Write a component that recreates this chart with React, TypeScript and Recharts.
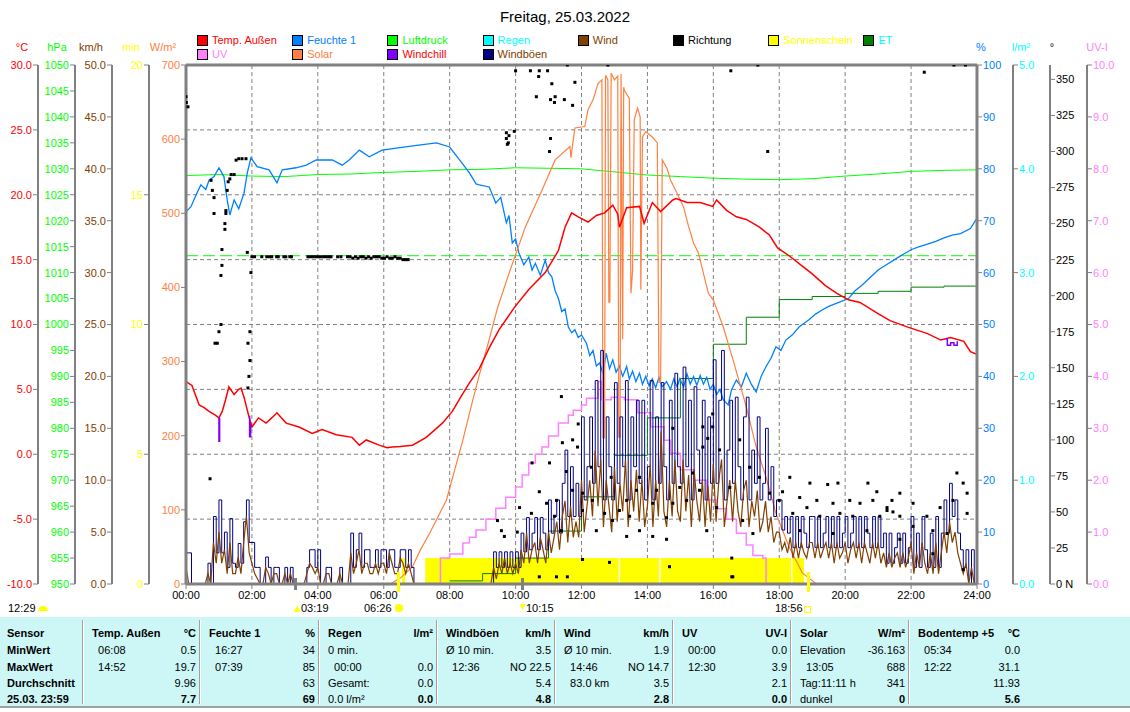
import React from "react";
import {
  ComposedChart, Line, Area, Scatter, XAxis, YAxis, CartesianGrid, ReferenceLine,
} from "recharts";

type Pt = [number, number];

// ---- axis ticks ----
const hourTicks = [0, 2, 4, 6, 8, 10, 12, 14, 16, 18, 20, 22, 24];
const tempTicks = [-10, -5, 0, 5, 10, 15, 20, 25, 30];
const pressTicks = [950, 955, 960, 965, 970, 975, 980, 985, 990, 995, 1000, 1005, 1010, 1015, 1020, 1025, 1030, 1035, 1040, 1045, 1050];
const windTicks = [0, 5, 10, 15, 20, 25, 30, 35, 40, 45, 50];
const sunTicks = [0, 5, 10, 15, 20];
const solarTicks = [0, 100, 200, 300, 400, 500, 600, 700];
const humTicks = [0, 10, 20, 30, 40, 50, 60, 70, 80, 90, 100];
const rainTicks = [0, 1, 2, 3, 4, 5];
const dirTicks = [0, 25, 50, 75, 100, 125, 150, 175, 200, 225, 250, 275, 300, 325, 350];
const uvTicks = [0, 1, 2, 3, 4, 5, 6, 7, 8, 9, 10];

// ---- series: [hour, value] ----
const tempOut: Pt[] = [
  [0, 5.6], [0.18, 5.3], [0.4, 3.8], [0.55, 3.6], [0.7, 3.3], [0.9, 3.0], [1.0, 2.8], [1.1, 3.3], [1.2, 4.2],
  [1.3, 5.2], [1.46, 4.6], [1.6, 5.0], [1.67, 5.1], [1.76, 4.4], [1.85, 3.5], [1.91, 2.9], [2.0, 2.1], [2.2, 2.8],
  [2.43, 2.4], [2.6, 2.8], [2.76, 3.2], [2.9, 2.8], [3.04, 2.4], [3.43, 2.1], [3.83, 1.6], [4.13, 1.9], [4.56, 1.5],
  [5.04, 1.3], [5.26, 0.7], [5.47, 1.1], [5.86, 0.7], [6.1, 0.5], [6.26, 0.55], [6.5, 0.6], [6.87, 0.7], [7.29, 1.3],
  [7.78, 2.4], [8.08, 3.3], [8.38, 4.6], [8.6, 5.5], [8.9, 6.6], [9.2, 8.2], [9.5, 9.6], [9.96, 11.3], [10.4, 12.7],
  [10.9, 14.0], [11.3, 15.7], [11.5, 17.5], [11.7, 18.6], [11.9, 18.3], [12.2, 17.9], [12.45, 18.4], [12.7, 18.6],
  [12.95, 19.2], [13.1, 18.5], [13.15, 17.5], [13.37, 19.0], [13.76, 19.1], [13.9, 17.8], [14.15, 19.4], [14.4, 18.7],
  [14.77, 19.6], [14.87, 19.7], [15.2, 19.4], [15.6, 19.4], [15.98, 19.1], [16.1, 19.6], [16.4, 18.8], [16.7, 18.3],
  [17.0, 18.1], [17.4, 17.5], [17.7, 16.9], [17.95, 15.9], [18.3, 15.3], [18.7, 14.5], [19.0, 13.9], [19.4, 13.0],
  [19.75, 12.4], [20.1, 11.9], [20.45, 11.7], [20.96, 10.9], [21.36, 10.3], [21.9, 9.8], [22.5, 9.3], [22.9, 8.8],
  [23.2, 9.0], [23.6, 8.7], [23.8, 7.9], [24, 7.7],
];

const windchillSegs: Pt[][] = [
  [[0.98, 2.8], [1.0, 1.0], [1.02, 2.8]],
  [[1.91, 2.9], [1.93, 1.35], [1.96, 2.4]],
  [[23.05, 8.9], [23.1, 8.4], [23.2, 8.6], [23.3, 8.4], [23.4, 8.7]],
];

const humidity: Pt[] = [
  [0, 71.7], [0.15, 72.7], [0.33, 75.3], [0.45, 76.9], [0.6, 76.0], [0.7, 77.8], [0.85, 78.5], [1.0, 80.2],
  [1.15, 78.5], [1.25, 74.0], [1.33, 71.1], [1.46, 74.0], [1.6, 72.3], [1.76, 75.3], [1.86, 79.2], [1.97, 82.1],
  [2.16, 80.4], [2.52, 79.8], [2.76, 77.3], [2.92, 79.8], [3.34, 80.2], [3.65, 80.7], [3.95, 81.7], [4.44, 81.7],
  [4.74, 80.7], [4.95, 81.7], [5.26, 83.6], [5.56, 82.3], [5.95, 83.6], [6.38, 84.0], [7.0, 84.5], [7.6, 85.0],
  [8.0, 84.2], [8.3, 81.7], [8.6, 79.2], [8.8, 77.1], [8.9, 76.9], [9.2, 76.5], [9.4, 73.4], [9.55, 74.5],
  [9.72, 69.6], [9.8, 71.0], [9.9, 65.7], [10.0, 66.5], [10.1, 63.8], [10.25, 61.5], [10.4, 63.0], [10.5, 60.5],
  [10.6, 61.8], [10.75, 59.5], [10.9, 62.4], [11.0, 60.0], [11.1, 59.2], [11.2, 56.5], [11.3, 55.0], [11.4, 52.5],
  [11.5, 53.0], [11.6, 49.5], [11.7, 48.4], [11.8, 49.0], [11.9, 47.5], [12.0, 48.0], [12.15, 46.4], [12.25, 44.0],
  [12.35, 45.0], [12.45, 42.0], [12.55, 42.6], [12.65, 40.5], [12.75, 44.5], [12.85, 41.5], [12.95, 43.2], [13.05, 40.8],
  [13.15, 42.0], [13.25, 40.0], [13.37, 41.9], [13.45, 39.5], [13.55, 41.0], [13.65, 39.0], [13.76, 40.6],
  [13.85, 38.5], [13.95, 40.0], [14.05, 38.2], [14.15, 39.5], [14.25, 37.8], [14.35, 39.8], [14.45, 38.0],
  [14.58, 39.0], [14.7, 37.5], [14.8, 39.5], [14.9, 38.0], [14.98, 39.5], [15.1, 38.0], [15.2, 40.5], [15.3, 38.5],
  [15.4, 40.0], [15.5, 38.3], [15.6, 40.2], [15.7, 38.5], [15.8, 39.8], [15.9, 37.5], [16.0, 38.5], [16.1, 36.5],
  [16.2, 37.5], [16.3, 35.5], [16.45, 34.5], [16.55, 37.4], [16.7, 39.3], [16.85, 38.0], [17.0, 40.6],
  [17.15, 38.5], [17.3, 37.0], [17.45, 40.0], [17.6, 41.9], [17.75, 43.5], [17.9, 45.7], [18.05, 45.0],
  [18.2, 47.0], [18.4, 48.0], [18.6, 49.5], [18.9, 50.9], [19.1, 52.0], [19.3, 52.8], [19.5, 53.5], [19.75, 54.1],
  [20.1, 55.0], [20.3, 56.5], [20.5, 57.5], [20.75, 59.0], [21.0, 60.5], [21.25, 61.5], [21.5, 62.5], [21.75, 63.5],
  [22.0, 64.4], [22.25, 65.0], [22.5, 65.5], [22.75, 66.0], [23.0, 66.7], [23.25, 67.2], [23.5, 67.5],
  [23.8, 68.5], [24, 70.5],
];

const pressure: Pt[] = [
  [0, 1028.7], [1, 1028.9], [2, 1028.6], [3, 1028.5], [4, 1028.9], [5, 1029.0], [6, 1029.3], [7, 1029.5],
  [8, 1029.8], [9, 1029.9], [10, 1030.2], [11, 1030.1], [12, 1030.0], [13, 1029.4], [14, 1028.8], [15, 1028.5],
  [16, 1028.2], [17, 1028.0], [18, 1027.9], [19, 1028.1], [20, 1028.6], [21, 1029.0], [22, 1029.5], [23, 1029.7],
  [24, 1029.8],
];

const solar: Pt[] = [
  [6.2, 0], [6.5, 8], [6.87, 23], [7.1, 45], [7.4, 69], [7.9, 113], [8.4, 194], [8.7, 248], [8.9, 282],
  [9.2, 330], [9.45, 372], [9.8, 419], [10.3, 482], [10.8, 531], [11.2, 572], [11.65, 590], [11.68, 575],
  [11.72, 589], [11.8, 615], [12.1, 617], [12.2, 640], [12.35, 653], [12.5, 675], [12.62, 680], [12.65, 197],
  [12.7, 197], [12.73, 686], [12.8, 680], [12.83, 380], [12.86, 380], [12.9, 689], [13.0, 680], [13.1, 685],
  [13.13, 198], [13.17, 198], [13.2, 688], [13.25, 330], [13.28, 670], [13.3, 666], [13.45, 655], [13.5, 392],
  [13.55, 423], [13.6, 626], [13.7, 642], [13.78, 630], [13.8, 397], [13.85, 603], [13.95, 610], [14.15, 603],
  [14.3, 595], [14.35, 272], [14.4, 272], [14.45, 572], [14.6, 560], [14.7, 545], [14.9, 527], [15.1, 508],
  [15.25, 482], [15.4, 460], [15.55, 446], [15.7, 419], [15.85, 392], [16.0, 383], [16.3, 347], [16.6, 302],
  [17.0, 239], [17.3, 185], [17.6, 144], [17.9, 95], [18.3, 50], [18.7, 15], [19.1, 1], [19.2, 0],
];

const uvIndex: Pt[] = [
  [7.7, 0], [7.72, 0.5], [8.0, 0.58], [8.4, 0.79], [8.6, 0.9], [8.8, 1.04], [9.1, 1.25], [9.4, 1.46],
  [9.7, 1.67], [10.0, 1.87], [10.2, 2.1], [10.4, 2.33], [10.6, 2.5], [10.8, 2.64], [11.0, 2.85], [11.3, 3.1],
  [11.6, 3.25], [11.75, 3.35], [12.0, 3.45], [12.15, 3.58], [12.5, 3.9], [12.6, 3.55], [12.9, 3.6], [13.3, 3.55],
  [13.7, 3.3], [14.1, 3.03], [14.5, 2.77], [14.7, 2.52], [15.0, 2.2], [15.4, 2.0], [15.8, 1.62], [16.1, 1.45],
  [16.4, 1.25], [16.7, 0.98], [17.0, 0.75], [17.2, 0.55], [17.5, 0.5], [17.6, 0],
];

// ET, hourly steps (l/m²)
const evapo: Pt[] = [
  [8, 0.03], [9, 0.1], [10, 0.25], [11, 0.51], [12, 0.84], [13, 1.24], [14, 1.6], [15, 1.98], [16, 2.31],
  [17, 2.57], [18, 2.74], [19, 2.77], [20, 2.8], [21, 2.82], [22, 2.86], [23, 2.87], [24, 2.87],
];

// sunshine minutes
const sunshine: Pt[] = [
  [0, 0], [6.55, 1], [6.65, 0], [7.26, 1], [13.13, 0], [13.17, 1], [14.35, 0], [14.4, 1], [18.36, 0],
  [18.4, 1], [18.75, 0], [24, 0],
];

// gusts and wind, 5-minute values per hour (km/h)
const gustByHour: number[][] = [
  [3, 3, 0, 0, 0, 0, 0, 0, 2, 0, 6.5, 3],
  [8.1, 3, 5, 1.6, 6.3, 2, 1.6, 3.9, 2, 6, 8.1, 4],
  [4, 1.6, 1.6, 0, 0, 2.6, 1.6, 0, 1.6, 1.6, 0, 0],
  [1.6, 0, 1.6, 0, 0, 0, 0, 0, 1.6, 3.3, 3.3, 1.6],
  [3.3, 0, 0, 1.6, 1.6, 0, 0, 0, 1.6, 0, 0, 0],
  [4.9, 1.6, 3.3, 4.9, 1.6, 3.3, 3.3, 1.6, 1.6, 3.3, 1.6, 3.3],
  [3.3, 1.6, 3.3, 3.3, 1.6, 1.6, 3.3, 3.3, 1.6, 3.3, 1.6, 0],
  [0, 0, 0, 0, 0, 0, 0, 0, 0, 0, 0, 0],
  [0, 0, 0, 0, 0, 0, 0, 0, 0, 0, 0, 0],
  [0, 0, 0, 0, 3.1, 1.6, 3.1, 1.6, 3.1, 1.6, 3.1, 1.6],
  [3.1, 1.6, 4.9, 3.1, 6.4, 3.3, 4.9, 6.4, 3.3, 6.4, 4.9, 3.3],
  [8.1, 4.9, 6.5, 8.1, 4.9, 9.7, 12.9, 6.5, 11.3, 6.5, 9.7, 6.5],
  [16.1, 8.1, 11.3, 16.1, 9.7, 19.6, 11.3, 22.5, 8.1, 16.1, 11.3, 8.1],
  [19.4, 9.7, 16.1, 11.3, 19.6, 8.1, 16.1, 11.3, 17.7, 9.7, 17.7, 8.1],
  [11.3, 19.6, 8.1, 16.1, 9.7, 19.4, 11.3, 8.1, 17.7, 9.7, 20.3, 11.3],
  [9.7, 20.9, 11.3, 17.7, 8.1, 19.0, 12.9, 9.7, 17.7, 8.1, 16.1, 9.7],
  [21.6, 9.7, 17.7, 22.5, 8.1, 12.9, 17.7, 9.7, 18.0, 11.3, 8.1, 16.1],
  [18.0, 8.1, 12.9, 9.7, 16.1, 8.1, 9.7, 15.0, 8.1, 11.3, 6.5, 8.1],
  [8.1, 5.2, 6.5, 4.9, 6.5, 3.5, 6.5, 3.5, 6.5, 4.9, 3.5, 6.5],
  [6.5, 3.5, 6.5, 3.5, 4.9, 6.5, 3.5, 6.5, 3.5, 6.5, 3.5, 4.9],
  [6.5, 3.5, 4.9, 6.5, 3.5, 6.5, 3.5, 6.5, 4.9, 3.5, 6.5, 3.5],
  [6.5, 3.5, 4.9, 2, 4.9, 2, 3.5, 4.9, 2, 4.9, 2, 3.5],
  [6.5, 1.6, 4.9, 1.6, 6.5, 3.3, 1.6, 4.9, 1.6, 6.5, 1.6, 4.9],
  [8.1, 4.9, 9.7, 6.5, 8.1, 4.9, 3.3, 1.6, 3.3, 0, 3.3, 0],
  [0],
];

const windByHour: number[][] = [
  [1.6, 0, 0, 0, 0, 0, 0, 0, 1, 0, 4, 2],
  [5, 2, 3.3, 1, 4, 1, 1, 2.6, 1, 4, 6.5, 3],
  [2, 1, 0.5, 0, 0, 1.6, 1, 0, 1, 1, 0, 0],
  [1, 0, 1, 0, 0, 0, 0, 0, 1, 2, 1.6, 1],
  [1.6, 0, 0, 1, 1, 0, 0, 0, 1, 0, 0, 0],
  [3, 1, 2, 3.3, 1, 2, 2, 1, 1, 2, 1, 2],
  [2, 1, 3, 2, 1, 1, 2.5, 2, 1, 2, 1, 0],
  [0, 0, 0, 0, 0, 0, 0, 0, 0, 0, 0, 0],
  [0, 0, 0, 0, 0, 0, 0, 0, 0, 0, 0, 0],
  [0, 0, 0, 0, 1.6, 0.5, 2, 1, 2.5, 1, 2, 1],
  [2, 1, 3.3, 2, 4.9, 2, 3.3, 4, 2, 4.5, 3.3, 2],
  [5, 3, 4.5, 6, 3.3, 6.5, 8, 4, 7.5, 4.5, 6, 4.5],
  [10, 5, 7.5, 10, 6.5, 12.9, 7.5, 12, 5.5, 10, 7.5, 5],
  [11.3, 6, 9.7, 7, 12, 5.5, 10, 7, 11, 6, 10, 5.5],
  [7.5, 11.5, 5.5, 10, 6.5, 14.7, 7, 5.5, 10, 6.5, 12, 7],
  [6, 12, 7, 10.5, 5.5, 11, 8, 6, 10, 5.5, 9.5, 6],
  [11.5, 6, 10, 12, 5.5, 8, 10, 6, 10, 7, 5.5, 9],
  [10, 5.5, 8, 6.5, 9, 5, 6, 8, 5, 6.5, 4, 5],
  [5, 3.3, 4, 3, 4.5, 2.5, 4, 2.5, 4, 3, 2.5, 4],
  [4, 2.5, 4, 2.5, 3.3, 4, 2.5, 4, 2, 4, 2.5, 3],
  [4, 2, 3.3, 4, 2.5, 4, 2, 4, 3, 2, 4, 2.5],
  [4, 2, 3, 1.6, 3, 1.6, 2.5, 3, 1.6, 3, 1.6, 2.5],
  [4, 1, 3, 1.6, 4, 2, 1, 3, 1, 4, 1, 3],
  [5, 3, 6, 4, 5, 3, 2, 1, 2, 0, 1.6, 0],
  [0],
];

// wind direction samples (degrees)
const direction: Pt[] = [
  [0, 338], [0.01, 334], [0.06, 331], [0.73, 73], [0.76, 280], [0.8, 273], [0.85, 268], [0.85, 257], [0.88, 167],
  [0.95, 167], [1.0, 175], [1.06, 180], [1.06, 214], [1.09, 221], [1.09, 232], [1.18, 250], [1.18, 246],
  [1.21, 259], [1.21, 257], [1.25, 273], [1.28, 279], [1.33, 281], [1.37, 284], [1.46, 284], [1.52, 294],
  [1.6, 295], [1.7, 295], [1.82, 295], [1.86, 230], [1.88, 167], [1.88, 136], [1.91, 144], [1.94, 155],
  [1.94, 175], [1.97, 216],
  [2.0, 227], [2.08, 227], [2.3, 227], [2.45, 227], [2.53, 227], [2.6, 227], [2.75, 227], [2.8, 227],
  [2.97, 227], [3.03, 227], [3.15, 227], [3.2, 227], [3.7, 227], [3.78, 227], [3.86, 227], [3.94, 227],
  [4.02, 227], [4.1, 227], [4.18, 227], [4.26, 227], [4.34, 227], [4.4, 227], [4.6, 227], [4.7, 227],
  [4.9, 227], [4.98, 227], [5.06, 226], [5.14, 227], [5.22, 226], [5.3, 227], [5.38, 227], [5.46, 226],
  [5.54, 227], [5.62, 226], [5.7, 227], [5.78, 227], [5.86, 227], [5.94, 226], [6.02, 226], [6.1, 227],
  [6.18, 226], [6.26, 226], [6.34, 227], [6.42, 226], [6.5, 226], [6.58, 225], [6.66, 225], [6.74, 225],
  [9.45, 44], [9.57, 37], [9.66, 33], [9.72, 313], [9.72, 309], [9.75, 305], [9.78, 306], [9.8, 311],
  [9.96, 314], [10.0, 356], [10.05, 36], [10.12, 53], [10.45, 356], [10.48, 49], [10.5, 84], [10.63, 338],
  [10.7, 352], [10.72, 356], [10.72, 64], [10.72, 5], [10.94, 56], [10.97, 356], [11.03, 300], [11.03, 84],
  [11.06, 336], [11.06, 309], [11.1, 347], [11.18, 334], [11.18, 47], [11.2, 338], [11.24, 58], [11.24, 5],
  [11.39, 130], [11.39, 37], [11.42, 98], [11.48, 336], [11.54, 78], [11.57, 360], [11.57, 5], [11.73, 332],
  [11.73, 65], [11.73, 100], [11.8, 348], [11.88, 95], [11.9, 111], [12.03, 63], [12.03, 51], [12.03, 17],
  [12.3, 81], [12.33, 58], [12.45, 37], [12.7, 49], [12.8, 360], [12.85, 15], [12.9, 74], [12.94, 44],
  [13.15, 51], [13.37, 58], [13.37, 33], [13.46, 47], [13.67, 65], [13.76, 37], [13.76, 74], [14.16, 56],
  [14.16, 33], [14.28, 65], [14.58, 46], [14.58, 31], [14.67, 12], [14.77, 56], [14.77, 108], [14.98, 67],
  [15.19, 58], [15.37, 77], [15.58, 65], [15.68, 109], [15.68, 95], [15.8, 37], [15.83, 101], [15.98, 109],
  [15.98, 118], [16.1, 53], [16.19, 93], [16.5, 67], [16.53, 356], [16.56, 18], [16.56, 5], [16.59, 5],
  [16.8, 100], [16.89, 44], [17.1, 81], [17.2, 35], [17.35, 360], [17.4, 74], [17.65, 300], [17.71, 63],
  [18.0, 58], [18.1, 64], [18.32, 74], [18.41, 49], [18.62, 60], [18.62, 37], [18.84, 53], [18.93, 70],
  [19.14, 58], [19.23, 47], [19.47, 69], [19.63, 56], [19.63, 35], [19.78, 70], [19.84, 49], [20.14, 58],
  [20.23, 47], [20.45, 56], [20.66, 37], [20.69, 70], [20.84, 58], [20.96, 64], [21.05, 47], [21.27, 53],
  [21.27, 51], [21.42, 58], [21.45, 50], [21.66, 63], [21.66, 47], [21.66, 31], [22.06, 56], [22.06, 40],
  [22.4, 355], [22.48, 47], [22.66, 37], [22.66, 21], [22.88, 53], [23.09, 35], [23.27, 58], [23.3, 360],
  [23.39, 77], [23.58, 70], [23.58, 10], [23.7, 63], [23.7, 49], [23.65, 360],
];

// ---- colours ----
const RED = "#ff0000";
const BLUE = "#0080ff";
const LIME = "#00ff00";
const CYAN = "#00ffff";
const BROWN = "#804000";
const YELLOW = "#ffff00";
const DKGREEN = "#008000";
const PINK = "#ff80ff";
const CORAL = "#ff8040";
const PURPLE = "#8000ff";
const NAVY = "#000080";
const GRAY = "#808080";

const legendItems = [
  { label: "Temp. Außen", box: RED, text: RED, col: 0, row: 0 },
  { label: "Feuchte 1", box: BLUE, text: BLUE, col: 1, row: 0 },
  { label: "Luftdruck", box: LIME, text: LIME, col: 2, row: 0 },
  { label: "Regen", box: CYAN, text: CYAN, col: 3, row: 0 },
  { label: "Wind", box: BROWN, text: BROWN, col: 4, row: 0 },
  { label: "Richtung", box: "#000", text: "#000", col: 5, row: 0 },
  { label: "Sonnenschein", box: YELLOW, text: YELLOW, col: 6, row: 0 },
  { label: "ET", box: DKGREEN, text: CYAN, col: 7, row: 0 },
  { label: "UV", box: PINK, text: PINK, col: 0, row: 1 },
  { label: "Solar", box: CORAL, text: CORAL, col: 1, row: 1 },
  { label: "Windchill", box: PURPLE, text: RED, col: 2, row: 1 },
  { label: "Windböen", box: NAVY, text: BROWN, col: 3, row: 1 },
];

const unitLabels = [
  { text: "°C", x: 22, color: RED },
  { text: "hPa", x: 57, color: LIME },
  { text: "km/h", x: 91, color: BROWN },
  { text: "min", x: 131, color: YELLOW },
  { text: "W/m²", x: 163, color: CORAL },
  { text: "%", x: 981, color: BLUE },
  { text: "l/m²", x: 1021, color: CYAN },
  { text: "°", x: 1052, color: "#000" },
  { text: "UV-I", x: 1097, color: PINK },
];

const sensorRows = ["Sensor", "MinWert", "MaxWert", "Durchschnitt", "25.03. 23:59"];
const tableCols = [
  { title: "Temp. Außen", unit: "°C", left: ["  06:08", "  14:52", "", ""], right: ["0.5", "19.7", "9.96", "7.7"] },
  { title: "Feuchte 1", unit: "%", left: ["  16:27", "  07:39", "", ""], right: ["34", "85", "63", "69"] },
  { title: "Regen", unit: "l/m²", left: ["0 min.", "  00:00", "Gesamt:", "0.0 l/m²"], right: ["", "0.0", "0.0", "0.0"] },
  { title: "Windböen", unit: "km/h", left: ["Ø 10 min.", "  12:36", "", ""], right: ["3.5", "NO 22.5", "5.4", "4.8"] },
  { title: "Wind", unit: "km/h", left: ["Ø 10 min.", "  14:46", "  83.0 km", ""], right: ["1.9", "NO 14.7", "3.5", "2.8"] },
  { title: "UV", unit: "UV-I", left: ["  00:00", "  12:30", "", ""], right: ["0.0", "3.9", "2.1", "0.0"] },
  { title: "Solar", unit: "W/m²", left: ["Elevation", "  13:05", "Tag:11:11 h", "dunkel"], right: ["-36.163", "688", "341", "0"] },
  { title: "Bodentemp +5", unit: "°C", left: ["  05:34", "  12:22", "", ""], right: ["0.0", "31.1", "11.93", "5.6"] },
];
const colEdges = [85, 202, 321, 439, 557, 675, 793, 911, 1026];

const toRows = (pts: Pt[]) => pts.map(([t, v]) => ({ t, v }));
const byHour = (rows: number[][]) => rows.flat().map((v, i) => ({ t: i / 12, v }));

const pad = (h: number) => (h < 10 ? "0" + h : String(h)) + ":00";
const FONT = "'Liberation Sans', Arial, sans-serif";
const tick = (fill: string) => ({ fill, fontSize: 11, fontFamily: FONT });

const Dot = (p: any) => <rect x={p.cx - 1.5} y={p.cy - 1.5} width={3} height={3} fill="#000" />;

// axis ids sort alphabetically into inner -> outer order
const AX = {
  solar: "L1solar", sun: "L2sun", wind: "L3wind", press: "L4press", temp: "L5temp",
  hum: "R1hum", rain: "R2rain", dir: "R3dir", uv: "R4uv",
};

function Cell({ x, y, w, text, align, bold }: { x: number; y: number; w: number; text: string; align: "left" | "right"; bold?: boolean }) {
  return (
    <div style={{ position: "absolute", left: x, top: y, width: w, textAlign: align, whiteSpace: "pre", fontWeight: bold ? 700 : 400, fontSize: 11, lineHeight: "16px" }}>
      {text}
    </div>
  );
}

export default function App() {
  const rowTops = [625, 642, 659, 675, 691];
  const axisLine = { stroke: GRAY, strokeWidth: 2 };
  return (
    <div style={{ position: "absolute", left: 0, top: 0, width: 1130, height: 712, background: "#fff", fontFamily: FONT, overflow: "hidden" }}>
      <ComposedChart width={1130} height={712} margin={{ top: 65, right: 6, bottom: 108, left: 1 }}>
        <XAxis
          dataKey="t" type="number" domain={[0, 24]} ticks={hourTicks} tickFormatter={pad} allowDataOverflow
          height={20} stroke={GRAY} axisLine={{ stroke: GRAY, strokeWidth: 3 }} tickLine={{ stroke: GRAY }}
          tickSize={5} tick={tick("#000")} interval={0}
        />
        <YAxis yAxisId={AX.solar} orientation="left" width={37} domain={[0, 700]} ticks={solarTicks} interval={0} allowDataOverflow
          axisLine={{ stroke: GRAY, strokeWidth: 3 }} tickLine={{ stroke: GRAY }} tickSize={5} tickMargin={1} tick={tick(CORAL)} />
        <YAxis yAxisId={AX.sun} orientation="left" width={37} domain={[0, 20]} ticks={sunTicks} interval={0} allowDataOverflow
          axisLine={axisLine} tickLine={{ stroke: GRAY }} tickSize={5} tickMargin={1} tick={tick(YELLOW)} />
        <YAxis yAxisId={AX.wind} orientation="left" width={37} domain={[0, 50]} ticks={windTicks} interval={0} allowDataOverflow
          tickFormatter={(v: number) => v.toFixed(1)}
          axisLine={axisLine} tickLine={{ stroke: GRAY }} tickSize={5} tickMargin={1} tick={tick(BROWN)} />
        <YAxis yAxisId={AX.press} orientation="left" width={37} domain={[950, 1050]} ticks={pressTicks} interval={0} allowDataOverflow
          axisLine={axisLine} tickLine={{ stroke: GRAY }} tickSize={5} tickMargin={1} tick={tick(LIME)} />
        <YAxis yAxisId={AX.temp} orientation="left" width={37} domain={[-10, 30]} ticks={tempTicks} interval={0} allowDataOverflow
          tickFormatter={(v: number) => v.toFixed(1)}
          axisLine={axisLine} tickLine={{ stroke: GRAY }} tickSize={5} tickMargin={1} tick={tick(RED)} />
        <YAxis yAxisId={AX.hum} orientation="right" width={36} domain={[0, 100]} ticks={humTicks} interval={0} allowDataOverflow
          axisLine={{ stroke: GRAY, strokeWidth: 3 }} tickLine={{ stroke: GRAY }} tickSize={5} tickMargin={1} tick={tick(BLUE)} />
        <YAxis yAxisId={AX.rain} orientation="right" width={37} domain={[0, 5]} ticks={rainTicks} interval={0} allowDataOverflow
          tickFormatter={(v: number) => v.toFixed(1)}
          axisLine={axisLine} tickLine={{ stroke: GRAY }} tickSize={5} tickMargin={1} tick={tick(CYAN)} />
        <YAxis yAxisId={AX.dir} orientation="right" width={37} domain={[0, 360]} ticks={dirTicks} interval={0} allowDataOverflow
          tickFormatter={(v: number) => (v === 0 ? "0  N" : String(v))}
          axisLine={axisLine} tickLine={{ stroke: GRAY }} tickSize={5} tickMargin={1} tick={tick("#000")} />
        <YAxis yAxisId={AX.uv} orientation="right" width={37} domain={[0, 10]} ticks={uvTicks} interval={0} allowDataOverflow
          tickFormatter={(v: number) => v.toFixed(1)}
          axisLine={axisLine} tickLine={{ stroke: GRAY }} tickSize={5} tickMargin={1} tick={tick(PINK)} />

        <CartesianGrid yAxisId={AX.temp} stroke={GRAY} strokeDasharray="4 3" />
        <ReferenceLine yAxisId={AX.solar} y={700} stroke={GRAY} strokeWidth={3} />
        <ReferenceLine yAxisId={AX.press} y={1013.25} stroke={LIME} strokeDasharray="12 5" />

        <Area yAxisId={AX.sun} data={toRows(sunshine)} dataKey="v" type="stepAfter" stroke="none" fill={YELLOW} fillOpacity={1} isAnimationActive={false} />
        <Line yAxisId={AX.rain} data={toRows(evapo)} dataKey="v" type="stepAfter" stroke={DKGREEN} strokeWidth={1} dot={false} activeDot={false} isAnimationActive={false} />
        <Line yAxisId={AX.press} data={toRows(pressure)} dataKey="v" type="linear" stroke={LIME} strokeWidth={1} dot={false} activeDot={false} isAnimationActive={false} />
        <Line yAxisId={AX.hum} data={toRows(humidity)} dataKey="v" type="linear" stroke={BLUE} strokeWidth={1.3} dot={false} activeDot={false} isAnimationActive={false} />
        <Line yAxisId={AX.solar} data={toRows(solar)} dataKey="v" type="linear" stroke={CORAL} strokeWidth={1.2} dot={false} activeDot={false} isAnimationActive={false} />
        <Line yAxisId={AX.uv} data={toRows(uvIndex)} dataKey="v" type="stepAfter" stroke={PINK} strokeWidth={1.5} dot={false} activeDot={false} isAnimationActive={false} />
        <Line yAxisId={AX.wind} data={byHour(gustByHour)} dataKey="v" type="stepAfter" stroke={NAVY} strokeWidth={1} dot={false} activeDot={false} isAnimationActive={false} />
        <Line yAxisId={AX.wind} data={byHour(windByHour)} dataKey="v" type="linear" stroke={BROWN} strokeWidth={1.2} dot={false} activeDot={false} isAnimationActive={false} />
        <Line yAxisId={AX.temp} data={toRows(tempOut)} dataKey="v" type="linear" stroke={RED} strokeWidth={1.5} dot={false} activeDot={false} isAnimationActive={false} />
        {windchillSegs.map((seg, i) => (
          <Line key={i} yAxisId={AX.temp} data={toRows(seg)} dataKey="v" type="stepAfter" stroke={PURPLE} strokeWidth={1.5} dot={false} activeDot={false} isAnimationActive={false} />
        ))}
        <Scatter yAxisId={AX.dir} data={toRows(direction)} dataKey="v" shape={Dot} isAnimationActive={false} />
      </ComposedChart>

      {/* title */}
      <div style={{ position: "absolute", left: 0, width: 1130, top: 8, textAlign: "center", fontSize: 15 }}>Freitag, 25.03.2022</div>

      {/* legend */}
      {legendItems.map((it) => (
        <div key={it.label} style={{ position: "absolute", left: 197 + it.col * 95.2, top: 33 + it.row * 14, height: 14, display: "flex", alignItems: "center", fontSize: 11 }}>
          <div style={{ width: 9, height: 9, background: it.box, border: "1px solid #000", marginRight: 4 }} />
          <span style={{ color: it.text }}>{it.label}</span>
        </div>
      ))}

      {/* axis units */}
      {unitLabels.map((u) => (
        <div key={u.text} style={{ position: "absolute", left: u.x - 30, width: 60, top: 41, textAlign: "center", fontSize: 11, color: u.color }}>{u.text}</div>
      ))}

      {/* rise / set markers */}
      <div style={{ position: "absolute", left: 294, top: 578, width: 3, height: 12, background: GRAY }} />
      <div style={{ position: "absolute", left: 521, top: 578, width: 3, height: 12, background: GRAY }} />
      <div style={{ position: "absolute", left: 397, top: 572, width: 3, height: 20, background: YELLOW }} />
      <div style={{ position: "absolute", left: 807, top: 572, width: 3, height: 20, background: YELLOW }} />
      <div style={{ position: "absolute", left: 8, top: 602, fontSize: 11 }}>12:29</div>
      <div style={{ position: "absolute", left: 38, top: 606, width: 10, height: 5, background: YELLOW, borderRadius: "5px 5px 0 0" }} />
      <div style={{ position: "absolute", left: 292, top: 602, fontSize: 11, color: YELLOW }}>▲</div>
      <div style={{ position: "absolute", left: 301, top: 602, fontSize: 11 }}>03:19</div>
      <div style={{ position: "absolute", left: 364, top: 602, fontSize: 11 }}>06:26</div>
      <div style={{ position: "absolute", left: 395, top: 604, width: 8, height: 8, background: YELLOW, borderRadius: 4 }} />
      <div style={{ position: "absolute", left: 518, top: 601, fontSize: 10, color: YELLOW }}>▼</div>
      <div style={{ position: "absolute", left: 526, top: 602, fontSize: 11 }}>10:15</div>
      <div style={{ position: "absolute", left: 775, top: 602, fontSize: 11 }}>18:56</div>
      <div style={{ position: "absolute", left: 804, top: 606, width: 5, height: 5, border: `1px solid ${YELLOW}` }} />

      {/* summary table */}
      <div style={{ position: "absolute", left: 0, top: 617, width: 1130, height: 89, background: "#cdf7f7", borderBottom: "2px solid #a0a0a0" }}>
        {colEdges.slice(0, 8).map((x) => (
          <div key={x} style={{ position: "absolute", left: x - 3, top: 3, width: 1, height: 84, background: "#a0a0a0", borderRight: "1px solid #fff" }} />
        ))}
        {sensorRows.map((s, r) => (
          <Cell key={s} x={7} y={rowTops[r] - 617} w={80} text={s} align="left" bold />
        ))}
        {tableCols.map((c, ci) => {
          const l = colEdges[ci];
          const w = colEdges[ci + 1] - l - 6;
          return (
            <React.Fragment key={c.title}>
              <Cell x={l + 7} y={rowTops[0] - 617} w={w - 7} text={c.title} align="left" bold />
              <Cell x={l} y={rowTops[0] - 617} w={w} text={c.unit} align="right" bold />
              {c.left.map((t, r) => (
                <Cell key={"l" + r} x={l + 7} y={rowTops[r + 1] - 617} w={w - 7} text={t} align="left" />
              ))}
              {c.right.map((t, r) => (
                <Cell key={"r" + r} x={l} y={rowTops[r + 1] - 617} w={w} text={t} align="right" bold={r === 3} />
              ))}
            </React.Fragment>
          );
        })}
      </div>
    </div>
  );
}
